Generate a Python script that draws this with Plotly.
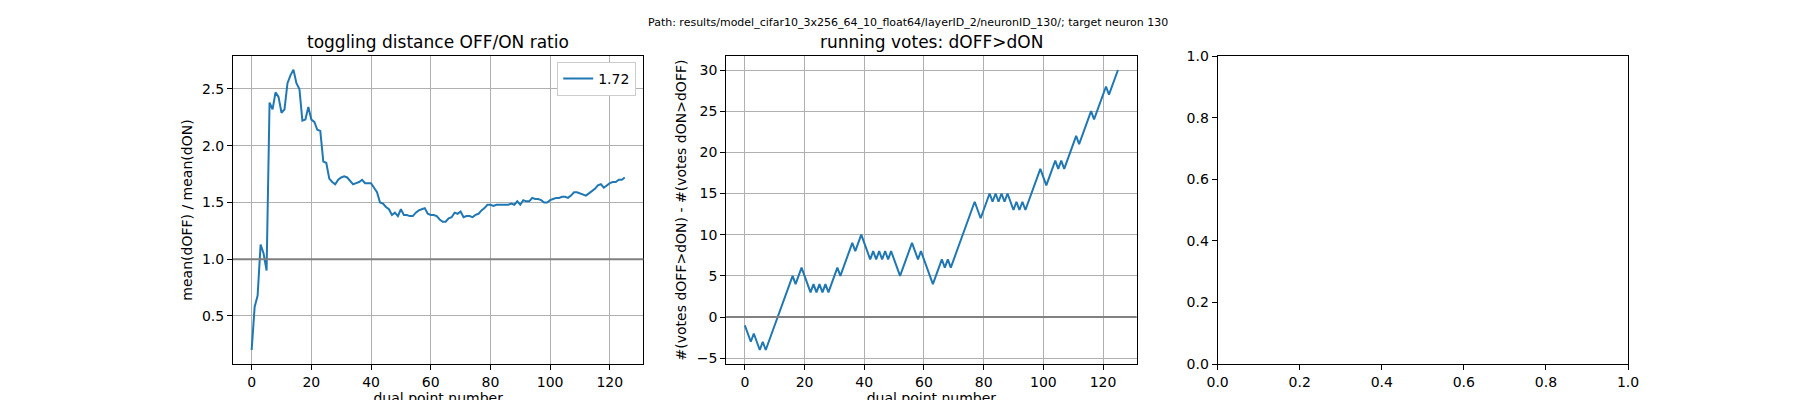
import plotly.graph_objects as go

# toggling distance ratio mean(dOFF)/mean(dON) per dual point
ratio = [0.2, 0.58, 0.68, 1.13, 1.05, 0.9, 2.38, 2.32, 2.47, 2.43,
         2.29, 2.32, 2.55, 2.62, 2.67, 2.55, 2.5, 2.22, 2.23, 2.34,
         2.23, 2.21, 2.14, 2.13, 1.86, 1.85, 1.71, 1.68, 1.66, 1.7,
         1.72, 1.73, 1.72, 1.69, 1.66, 1.67, 1.68, 1.7, 1.67, 1.67,
         1.67, 1.63, 1.59, 1.5, 1.49, 1.46, 1.44, 1.39, 1.41, 1.38,
         1.44, 1.39, 1.39, 1.38, 1.38, 1.41, 1.43, 1.44, 1.45, 1.4,
         1.39, 1.39, 1.38, 1.35, 1.33, 1.33, 1.36, 1.37, 1.41, 1.4,
         1.42, 1.37, 1.38, 1.38, 1.37, 1.39, 1.4, 1.43, 1.45, 1.48,
         1.48, 1.47, 1.48, 1.48, 1.48, 1.48, 1.48, 1.49, 1.48, 1.51,
         1.48, 1.52, 1.51, 1.51, 1.54, 1.53, 1.53, 1.52, 1.5, 1.5,
         1.52, 1.53, 1.54, 1.54, 1.55, 1.55, 1.54, 1.56, 1.59, 1.59,
         1.58, 1.57, 1.56, 1.58, 1.6, 1.62, 1.65, 1.66, 1.63, 1.65,
         1.67, 1.68, 1.68, 1.7, 1.7, 1.72]

# running votes: #(dOFF>dON) - #(dON>dOFF)
votes = [-1, -2, -3, -2, -3, -4, -3, -4, -3, -2,
         -1, 0, 1, 2, 3, 4, 5, 4, 5, 6,
         5, 4, 3, 4, 3, 4, 3, 4, 3, 4,
         5, 6, 5, 6, 7, 8, 9, 8, 9, 10,
         9, 8, 7, 8, 7, 8, 7, 8, 7, 8,
         7, 6, 5, 6, 7, 8, 9, 8, 7, 8,
         7, 6, 5, 4, 5, 6, 7, 6, 7, 6,
         7, 8, 9, 10, 11, 12, 13, 14, 13, 12,
         13, 14, 15, 14, 15, 14, 15, 14, 15, 14,
         13, 14, 13, 14, 13, 14, 15, 16, 17, 18,
         17, 16, 17, 18, 19, 18, 19, 18, 19, 20,
         21, 22, 21, 22, 23, 24, 25, 24, 25, 26,
         27, 28, 27, 28, 29, 30]

points = list(range(len(ratio)))

blue = "#1f77b4"
font = dict(family="DejaVu Sans", size=14, color="black")

fig = go.Figure()
fig.add_trace(go.Scatter(x=points, y=ratio, mode="lines", name="1.72",
                         line=dict(color=blue, width=2), xaxis="x", yaxis="y"))
fig.add_trace(go.Scatter(x=points, y=votes, mode="lines", showlegend=False,
                         line=dict(color=blue, width=2), xaxis="x2", yaxis="y2"))
fig.add_trace(go.Scatter(x=[None], y=[None], xaxis="x3", yaxis="y3", showlegend=False))

# matplotlib-like axes frame, no automargin so the domains stay put
ax = dict(showline=True, mirror=True, linecolor="black", linewidth=1,
          ticks="outside", ticklen=5, tickcolor="black", zeroline=False,
          tickfont=font, automargin=False)
grid = dict(showgrid=True, gridcolor="#b0b0b0", gridwidth=1)

fig.update_layout(
    width=1800, height=400, margin=dict(l=0, r=0, t=0, b=0),
    plot_bgcolor="white", paper_bgcolor="white", font=font,
    xaxis=dict(domain=[0.125, 0.353], range=[-6.25, 131.25], dtick=20,
               title=dict(text="dual point number", font=font, standoff=4), **ax, **grid),
    yaxis=dict(domain=[0.11, 0.88], range=[0.077, 2.79], dtick=0.5, tickformat=".1f",
               title=dict(text="mean(dOFF) / mean(dON)", font=font, standoff=6), **ax, **grid),
    xaxis2=dict(domain=[0.399, 0.627], anchor="y2", range=[-6.25, 131.25], dtick=20,
                title=dict(text="dual point number", font=font, standoff=4), **ax, **grid),
    yaxis2=dict(domain=[0.11, 0.88], anchor="x2", range=[-5.7, 31.7], dtick=5,
                title=dict(text="#(votes dOFF>dON) - #(votes dON>dOFF)", font=font, standoff=6),
                **ax, **grid),
    xaxis3=dict(domain=[0.672, 0.9], anchor="y3", range=[0, 1], dtick=0.2, tickformat=".1f",
                showgrid=False, **ax),
    yaxis3=dict(domain=[0.11, 0.88], anchor="x3", range=[0, 1], dtick=0.2, tickformat=".1f",
                showgrid=False, **ax),
    legend=dict(x=0.349, y=0.865, xanchor="right", yanchor="top", bgcolor="white",
                bordercolor="#cccccc", borderwidth=1, font=font),
    showlegend=True,
)

fig.add_hline(y=1.0, line_color="gray", line_width=2, xref="x", yref="y")
fig.add_hline(y=0, line_color="gray", line_width=2, xref="x2", yref="y2")

fig.add_annotation(text="toggling distance OFF/ON ratio", x=0.239, y=0.885, xref="paper",
                   yref="paper", xanchor="center", yanchor="bottom", showarrow=False,
                   font=dict(family="DejaVu Sans", size=17, color="black"))
fig.add_annotation(text="running votes: dOFF>dON", x=0.513, y=0.885, xref="paper",
                   yref="paper", xanchor="center", yanchor="bottom", showarrow=False,
                   font=dict(family="DejaVu Sans", size=17, color="black"))
fig.add_annotation(text="Path: results/model_cifar10_3x256_64_10_float64/layerID_2/neuronID_130/; target neuron 130",
                   x=0.5, y=0.985, xref="paper", yref="paper", xanchor="center", yanchor="top",
                   showarrow=False, font=dict(family="DejaVu Sans", size=11, color="black"))

fig.write_html("out.html")
